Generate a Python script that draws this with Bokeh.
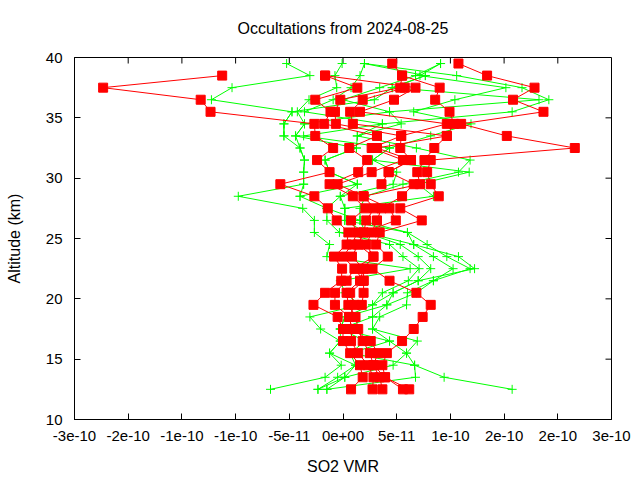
from bokeh.plotting import figure
from bokeh.models import ColumnDataSource, FixedTicker, Range1d
from bokeh.embed import file_html
from bokeh.resources import INLINE

# Altitude grid (km)
altitudes = [12.5 + i for i in range(28)]

# SO2 VMR profiles, in units of 1e-11 (None = no value)
UNIT = 1e-11

red_profiles = [
    [7.4, 4.7, 4.4, 4.9, 6.6, 7.9, 8.9, 9.8, 8.2, 5.2, 3.3, 5.0, 3.7, 4.1, 8.8, 6.4, 10.7, 9.8, 9.4, 9.8, 25.9, 18.3, 13.2, 22.4, 19.0, 21.4, 16.1, 12.9],
    [0.9, 2.2, 1.9, 0.8, 0.0, 0.0, -0.6, -3.3, -2.0, -0.2, -0.1, -1.0, 0.4, 0.6, -0.7, -1.7, -3.2, -7.0, -1.5, -2.9, -1.1, -3.1, -3.2, -14.8, -15.9, -26.8, -13.5, None],
    [3.3, 3.4, 2.8, 1.7, 0.9, 1.0, 0.7, -0.9, -0.9, 0.4, 1.3, 0.0, 1.0, 1.6, 0.9, 2.5, 1.1, -1.5, 1.7, 2.7, 0.7, 3.8, -2.1, -1.4, -3.1, 1.6, -2.0, None],
    [4.4, 4.1, 3.4, 3.0, 2.2, 1.7, 1.4, 0.6, 0.4, 1.9, 2.3, 1.0, 1.7, 2.3, 2.6, 3.5, 2.3, -0.6, 3.2, 6.7, 3.2, 6.5, -0.8, -0.9, -0.3, 6.4, 6.6, 5.5],
    [6.7, 4.7, 3.4, 3.9, 3.1, 1.0, 0.7, 1.3, 0.8, 2.3, 2.3, 3.4, 2.6, 3.2, 3.8, 4.3, 6.6, 7.9, 5.1, 7.6, 3.8, 11.6, 1.1, 0.8, 2.2, 6.9, None, None],
    [None] * 7 + [2.1, 2.3, 2.3, 1.3, 3.4, 1.7, 2.3, 5.9, 5.2, 2.3, 8.6, 8.3, 9.1, 10.2, 11.6, 12.4, 11.9, 10.3, 10.8, 6.6, None],
    [None] * 17 + [4.3, 5.1, 7.6, 6.4, 6.5, 11.6, 1.9, 5.7, 8.1, -2.0, None],
]

green_profiles = [
    [-8.1, -2.0, -0.2, -1.5, -0.3, -2.5, -3.7, 1.9, 0.2, -0.3, 7.5, -1.8, -1.5, -3.2, -3.2, -4.5, -11.7, -4.4, -4.4, -4.3, -4.8, -6.6, -6.6, -5.7, -14.7, -12.4, -3.7, -6.3],
    [-2.8, -0.6, 1.4, 0.8, 2.5, -0.3, 0.2, 3.3, 4.4, 7.3, 8.5, 6.7, 5.2, -0.4, -1.8, -1.8, -4.8, 1.6, -1.5, -2.0, 1.5, -5.3, -4.3, -5.1, -3.8, -0.7, -0.9, -0.1],
    [-1.8, 0.2, 5.6, 7.1, 5.2, 3.3, 3.3, 4.9, 5.6, 8.4, 9.8, 8.4, 6.4, 2.5, 0.2, 0.2, -0.3, 5.6, 6.0, 3.3, 5.2, -4.4, 4.4, -4.3, -1.1, 0.9, 1.9, 2.4],
    [18.9, 11.3, 8.0, 7.1, 8.3, 3.3, 4.1, 7.1, 7.2, 10.1, 12.3, 10.1, 7.9, 7.2, 1.9, 1.9, 2.5, 6.7, 12.9, 14.2, 8.2, 1.6, 6.5, 5.2, 0.0, 4.1, 8.1, 10.9],
    [-1.8, 8.1, 8.0, 0.8, 5.2, -0.3, 0.2, 4.9, 8.2, 10.1, 14.2, 11.6, 9.4, 7.2, 0.2, 0.2, 10.1, 8.4, 14.1, 3.3, 5.2, 9.8, 14.3, 7.9, 12.5, 18.2, 8.6, 10.9],
    [-2.8, 0.2, 1.4, -1.5, -0.3, -0.3, 3.3, 3.3, 5.6, 8.4, 14.7, 12.9, 7.9, 2.5, 1.9, -1.8, -0.3, 1.6, -1.5, -2.0, 1.5, 1.6, 4.4, 18.9, 23.0, 20.0, 12.7, 2.4],
    [None] * 16 + [-4.8, -4.4, -4.4, -4.3, -4.8, -5.3, -4.3, 5.2, 21.9, 5.5, 9.2, 2.4],
    [None] * 21 + [-6.6, -6.6, -5.7, 3.5, 5.5, 9.2, None],
]

x_ticks = [-3e-10, -2.4e-10, -1.8e-10, -1.2e-10, -6e-11, 0.0, 6e-11, 1.2e-10, 1.8e-10, 2.4e-10, 3e-10]
x_tick_labels = ["-3e-10", "-2e-10", "-1e-10", "-1e-10", "-5e-11", "0e+00", "5e-11", "1e-10", "2e-10", "2e-10", "3e-10"]
y_ticks = [10, 15, 20, 25, 30, 35, 40]

X_MIN, X_MAX = -3e-10, 3e-10
Y_MIN, Y_MAX = 10, 40

FONT = "Liberation Sans"
RED = "#ff0000"
GREEN = "#00ff00"

PLOT_W, PLOT_H = 640, 480
B_LEFT, B_RIGHT, B_TOP, B_BOTTOM = 74, 29, 57, 61
TICK_PX = 6

p = figure(width=PLOT_W, height=PLOT_H, output_backend="svg", toolbar_location=None,
           x_range=Range1d(X_MIN, X_MAX), y_range=Range1d(Y_MIN, Y_MAX),
           min_border_left=B_LEFT, min_border_right=B_RIGHT,
           min_border_top=B_TOP, min_border_bottom=B_BOTTOM,
           title="Occultations from 2024-08-25",
           x_axis_label="SO2 VMR", y_axis_label="Altitude (km)")

p.background_fill_color = "white"
p.border_fill_color = "white"
p.outline_line_color = "black"
p.outline_line_width = 1
p.grid.visible = False

p.title.align = "center"
p.title.vertical_align = "top"
p.title.text_font = FONT
p.title.text_font_size = "16px"
p.title.text_font_style = "normal"
p.title.text_color = "black"
p.title.standoff = 37


def style_axis(ax, ticks, labels=None):
    ax.ticker = FixedTicker(ticks=ticks)
    ax.major_tick_in = TICK_PX
    ax.major_tick_out = 0
    ax.minor_tick_in = 0
    ax.minor_tick_out = 0
    ax.major_tick_line_color = "black"
    ax.axis_line_color = "black"
    ax.major_label_text_font = FONT
    ax.major_label_text_font_size = "15px"
    ax.major_label_text_color = "black"
    ax.axis_label_text_font = FONT
    ax.axis_label_text_font_size = "16px"
    ax.axis_label_text_font_style = "normal"
    ax.axis_label_text_color = "black"
    if labels is not None:
        ax.major_label_overrides = {t: l for t, l in zip(ticks, labels)}


xa = p.xaxis[0]
style_axis(xa, x_ticks, x_tick_labels)
xa.major_label_standoff = 11
xa.axis_label_standoff = 14

ya = p.yaxis[0]
style_axis(ya, y_ticks)
ya.major_label_standoff = 12
ya.axis_label_standoff = 20

# Mirror ticks on the top and right edges (gnuplot style), derived from the tick lists
frame_w = PLOT_W - B_LEFT - B_RIGHT
frame_h = PLOT_H - B_TOP - B_BOTTOM
dy_tick = TICK_PX * (Y_MAX - Y_MIN) / frame_h
dx_tick = TICK_PX * (X_MAX - X_MIN) / frame_w
inner_x = x_ticks[1:-1]
inner_y = y_ticks[1:-1]
p.segment(x0=inner_x, y0=[Y_MAX] * len(inner_x), x1=inner_x, y1=[Y_MAX - dy_tick] * len(inner_x),
          line_color="black", line_width=1)
p.segment(x0=[X_MAX] * len(inner_y), y0=inner_y, x1=[X_MAX - dx_tick] * len(inner_y), y1=inner_y,
          line_color="black", line_width=1)


def to_source(profile):
    xs = [float("nan") if v is None else v * UNIT for v in profile]
    return ColumnDataSource(dict(x=xs, y=altitudes))


for prof in green_profiles:
    src = to_source(prof)
    p.line("x", "y", source=src, line_color=GREEN, line_width=1)
    p.scatter("x", "y", source=src, marker="cross", size=9, line_color=GREEN, line_width=1)

for prof in red_profiles:
    src = to_source(prof)
    p.line("x", "y", source=src, line_color=RED, line_width=1)
    p.scatter("x", "y", source=src, marker="square", size=9, line_color=RED, fill_color=RED)

open("out.html", "w").write(file_html(p, INLINE))
